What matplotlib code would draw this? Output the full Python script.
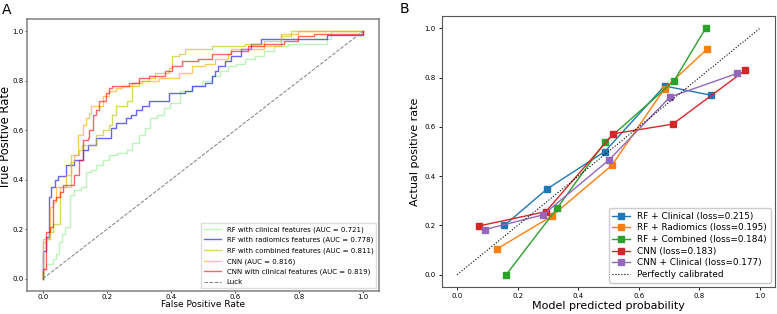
import matplotlib
matplotlib.use("Agg")
import matplotlib.pyplot as plt
import numpy as np

# ---------------- Panel A: ROC curves (step corner points: fpr, tpr) ----------------
zx_to_x = lambda zx: [(v - 130) / 968 for v in zx]

rf_clin_fpr = zx_to_x([130, 140, 160, 170, 178, 186, 196, 213, 225, 245, 260, 275, 290, 310, 330, 355, 385,
                       400, 420, 440, 455, 475, 495, 515, 545, 580, 610, 640, 665, 690, 715, 740, 770,
                       800, 830, 870, 940, 990, 1000])
rf_clin_tpr = [0.04, 0.06, 0.08, 0.10, 0.15, 0.18, 0.21, 0.34, 0.36, 0.37, 0.43, 0.44, 0.46, 0.48, 0.50, 0.51, 0.52,
               0.55, 0.58, 0.61, 0.65, 0.66, 0.69, 0.71, 0.76, 0.78, 0.80, 0.82, 0.84, 0.86, 0.87, 0.89, 0.90,
               0.92, 0.94, 0.95, 0.95, 0.97, 1.00]

rf_rad_fpr = zx_to_x([130, 140, 148, 155, 165, 175, 200, 225, 250, 265, 290, 335, 350, 380, 395, 410, 430,
                      450, 510, 560, 580, 620, 640, 650, 660, 680, 700, 730, 760, 790, 990, 1098])
rf_rad_tpr = [0.11, 0.17, 0.33, 0.37, 0.40, 0.415, 0.46, 0.48, 0.52, 0.54, 0.57, 0.61, 0.63, 0.65, 0.66, 0.68, 0.70,
              0.72, 0.75, 0.76, 0.78, 0.79, 0.82, 0.84, 0.86, 0.88, 0.90, 0.93, 0.95, 0.97, 0.985, 1.00]

rf_comb_fpr = zx_to_x([130, 140, 148, 160, 180, 215, 240, 248, 290, 310, 330, 340, 350, 385, 400, 420, 450,
                       470, 510, 520, 540, 560, 640, 740, 800, 850, 880])
rf_comb_tpr = [0.16, 0.16, 0.19, 0.22, 0.37, 0.50, 0.52, 0.54, 0.58, 0.60, 0.62, 0.66, 0.70, 0.72, 0.78, 0.80, 0.81,
               0.83, 0.85, 0.90, 0.91, 0.93, 0.94, 0.95, 0.96, 0.98, 1.00]

cnn_fpr = zx_to_x([130, 140, 150, 160, 170, 200, 215, 225, 235, 250, 260, 270, 275, 310, 330, 350, 370,
                   400, 430, 480, 540, 580, 620, 650, 690, 700, 800, 850, 900])
cnn_tpr = [0.15, 0.16, 0.29, 0.31, 0.37, 0.42, 0.47, 0.50, 0.58, 0.62, 0.65, 0.67, 0.70, 0.74, 0.76, 0.77, 0.78,
           0.79, 0.80, 0.81, 0.83, 0.86, 0.87, 0.89, 0.91, 0.93, 0.94, 0.99, 1.00]

cnn_clin_fpr = zx_to_x([130, 140, 150, 160, 170, 180, 190, 225, 240, 250, 265, 270, 280, 290, 300, 320, 330,
                        340, 390, 420, 450, 500, 520, 550, 600, 640, 700, 750, 800, 860, 900, 950, 1098])
cnn_clin_tpr = [0.04, 0.19, 0.21, 0.32, 0.33, 0.35, 0.38, 0.42, 0.48, 0.56, 0.57, 0.60, 0.66, 0.68, 0.72, 0.75, 0.77,
                0.78, 0.79, 0.81, 0.82, 0.84, 0.86, 0.88, 0.89, 0.91, 0.92, 0.94, 0.95, 0.96, 0.98, 0.99, 1.00]

roc_labels = ["RF with clinical features (AUC = 0.721)",
              "RF with radiomics features (AUC = 0.778)",
              "RF with combined features (AUC = 0.811)",
              "CNN (AUC = 0.816)",
              "CNN with clinical features (AUC = 0.819)"]
roc_colors = ["lightgreen", "blue", "y", "orange", "red"]

# ---------------- Panel B: calibration curves ----------------
cal_labels = ["RF + Clinical (loss=0.215)", "RF + Radiomics (loss=0.195)",
              "RF + Combined (loss=0.184)", "CNN (loss=0.183)", "CNN + Clinical (loss=0.177)"]
cal_x = [[0.156, 0.297, 0.488, 0.685, 0.840],
         [0.131, 0.312, 0.511, 0.685, 0.827],
         [0.162, 0.331, 0.488, 0.716, 0.821],
         [0.073, 0.293, 0.516, 0.712, 0.951],
         [0.091, 0.284, 0.502, 0.703, 0.925]]
cal_y = [[0.200, 0.348, 0.500, 0.766, 0.728],
         [0.104, 0.237, 0.444, 0.755, 0.917],
         [0.000, 0.271, 0.538, 0.786, 1.000],
         [0.198, 0.256, 0.572, 0.611, 0.829],
         [0.183, 0.243, 0.466, 0.721, 0.817]]
ticks = [0.0, 0.2, 0.4, 0.6, 0.8, 1.0]

fig = plt.figure(figsize=(7.77, 3.14), dpi=100)

# Panel A
axA = fig.add_axes([27 / 777, 1 - 291 / 314, 352 / 777, 272 / 314])
roc_data = [(rf_clin_fpr, rf_clin_tpr), (rf_rad_fpr, rf_rad_tpr), (rf_comb_fpr, rf_comb_tpr),
            (cnn_fpr, cnn_tpr), (cnn_clin_fpr, cnn_clin_tpr)]
for (fx, ty), lab, col in zip(roc_data, roc_labels, roc_colors):
    fx = [0.0] + list(fx) + [1.0]
    ty = [0.0] + list(ty) + [1.0]
    axA.plot(fx, ty, drawstyle="steps-post", color=col, alpha=0.6, lw=1.0, label=lab)
axA.plot([0, 1], [0, 1], linestyle="--", color="gray", lw=0.7, label="Luck")
axA.set_xlim(-0.05, 1.05)
axA.set_ylim(-0.05, 1.05)
axA.set_xticks(ticks)
axA.set_yticks(ticks)
axA.tick_params(labelsize=5, length=1.5, width=0.5, pad=1)
axA.set_xlabel("False Positive Rate", fontsize=6.5, labelpad=0)
axA.set_ylabel("True Positive Rate", fontsize=8.3)
axA.yaxis.set_label_coords(-0.043, 0.566)
for s in axA.spines.values():
    s.set_color("#808080")
    s.set_linewidth(1.1)
axA.legend(loc="lower right", fontsize=5.0, handlelength=2.5, labelspacing=0.6,
           borderpad=0.4, framealpha=1, fancybox=False, edgecolor="#dddddd",
           borderaxespad=0.4)
fig.text(2 / 777, 1 - 10 / 314, "A", fontsize=10, va="center", ha="left")

# Panel B
axB = fig.add_axes([442 / 777, 1 - 287 / 314, 333 / 777, 271 / 314])
cal_colors = ["C0", "C1", "C2", "C3", "C4"]
for xs, ys, lab, col in zip(cal_x, cal_y, cal_labels, cal_colors):
    axB.plot(xs, ys, "s-", color=col, lw=1.0, markersize=4, label=lab)
axB.plot([0, 1], [0, 1], "k:", lw=0.8, label="Perfectly calibrated")
axB.set_xlim(-0.05, 1.05)
axB.set_ylim(-0.05, 1.05)
axB.set_xticks(ticks)
axB.set_yticks(ticks)
axB.tick_params(labelsize=5, length=2.5, width=0.6, pad=2)
axB.set_xlabel("Model predicted probability", fontsize=8, labelpad=1)
axB.set_ylabel("Actual positive rate", fontsize=8, labelpad=3)
for s in axB.spines.values():
    s.set_color("#555555")
    s.set_linewidth(0.8)
axB.legend(loc="lower right", fontsize=6.4, handlelength=2.0, labelspacing=0.3,
           borderpad=0.4, framealpha=1, edgecolor="#cccccc")
fig.text(400 / 777, 1 - 9 / 314, "B", fontsize=10, va="center", ha="left")

fig.savefig("out.png", dpi=100)
